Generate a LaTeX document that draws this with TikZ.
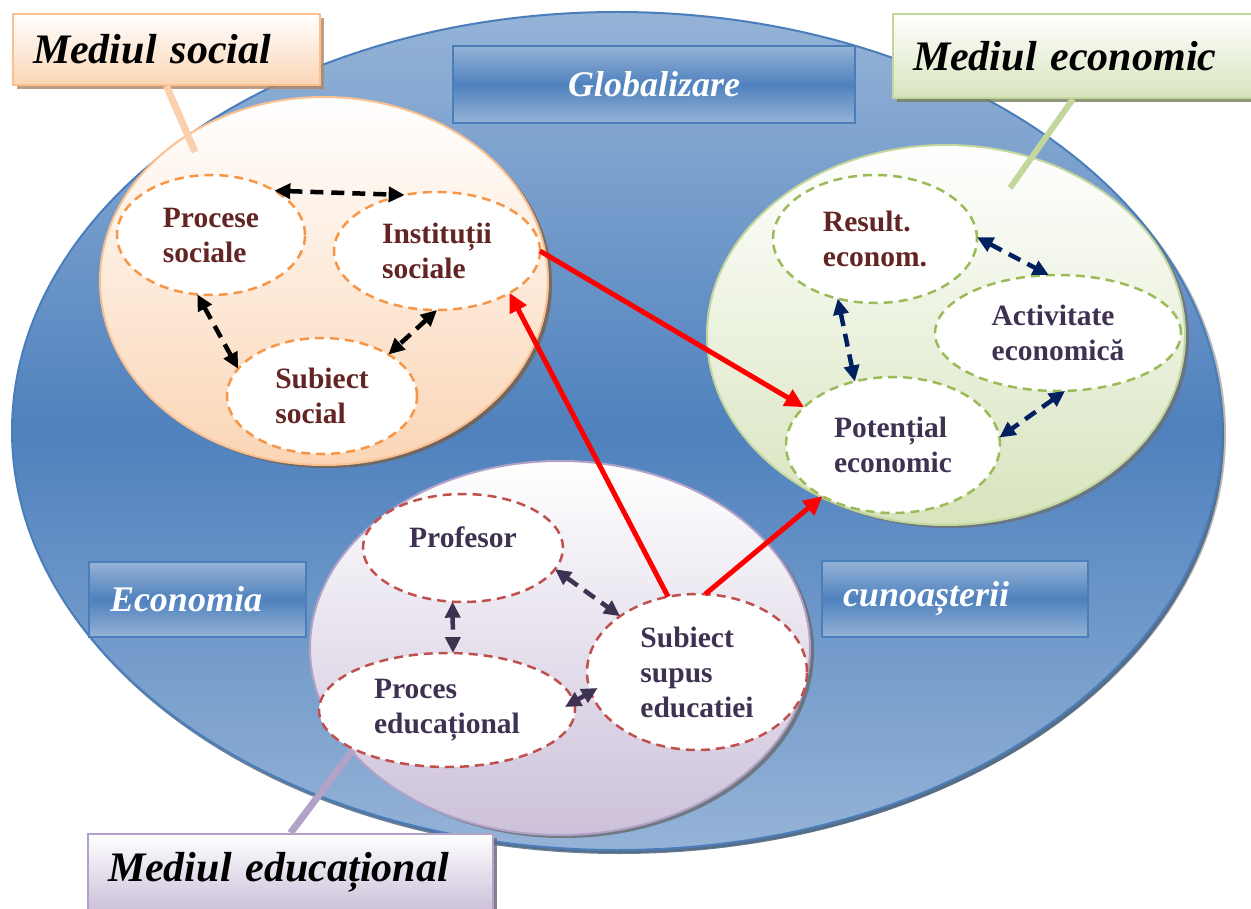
\documentclass[tikz,border=0pt]{standalone}
\usepackage{fontspec}
\setmainfont{Liberation Serif}
\usetikzlibrary{shapes.geometric,arrows.meta,shadows,calc}

\definecolor{blueLight}{HTML}{95B3D7}
\definecolor{blueDark}{HTML}{4F81BD}
\definecolor{blueEdge}{HTML}{4A7EBB}
\definecolor{peach}{HTML}{FBD5B5}
\definecolor{peachEdge}{HTML}{FAC090}
\definecolor{orangeDash}{HTML}{F79646}
\definecolor{greenFill}{HTML}{D7E4BD}
\definecolor{greenEdge}{HTML}{C3D69B}
\definecolor{greenDash}{HTML}{9BBB59}
\definecolor{lavFill}{HTML}{CCC1DA}
\definecolor{lavEdge}{HTML}{B3A2C7}
\definecolor{redDash}{HTML}{C0504D}
\definecolor{brownText}{HTML}{632523}
\definecolor{purpleText}{HTML}{3F3151}
\definecolor{navy}{HTML}{002060}
\definecolor{arrowRed}{HTML}{FF0000}

\tikzset{
  zone/.style={ellipse, inner sep=0pt, outer sep=0pt, line width=2pt,
    drop shadow={shadow xshift=4pt, shadow yshift=-3pt, fill=black!60, opacity=0.45}},
  cell/.style={ellipse, fill=white, line width=2.5pt, dash pattern=on 9pt off 6pt,
    inner sep=0pt, outer sep=0pt, align=left,
    font=\fontsize{29.5}{35}\selectfont\bfseries},
  bluebox/.style={rectangle, draw=blueEdge, line width=1.5pt,
    top color=blueLight, bottom color=blueLight, middle color=blueDark,
    text=white, inner ysep=0pt, inner xsep=21pt,
    font=\fontsize{36}{40}\selectfont\bfseries\itshape},
  tagbox/.style={rectangle, line width=2pt, inner ysep=0pt, inner xsep=20pt,
    align=left, font=\fontsize{42}{48}\selectfont\bfseries\itshape},
  pin/.style={line width=7pt},
  bigarrow/.style={draw=arrowRed, line width=5pt, -{Triangle[length=19pt,width=18pt]}},
  link/.style={line width=4.5pt, dash pattern=on 13pt off 8pt,
    {Triangle[length=16pt,width=15pt]}-{Triangle[length=16pt,width=15pt]}}
}

\begin{document}
\begin{tikzpicture}[x=1pt,y=-1pt]
\path[fill=white] (0,0) rectangle (1251,909);
\useasboundingbox (0,0) rectangle (1251,909);
\clip (0,0) rectangle (1251,909);

% outer field: the knowledge economy
\node[zone, minimum width=1210pt, minimum height=838pt, draw=blueEdge,
  top color=blueLight, bottom color=blueLight, middle color=blueDark,
  drop shadow={shadow xshift=2pt, shadow yshift=-4pt, fill=blueDark!60!black, opacity=0.7}]
  (field) at (617,431) {};

% headings on the field
\node[bluebox, minimum width=402pt, minimum height=77pt, text width=360pt, align=center]
  (glob) at (654,84.5) {Globalizare};
\node[bluebox, minimum width=217pt, minimum height=75pt, text width=175pt, align=left]
  (econ) at (197.5,599.5) {Economia};
\node[bluebox, minimum width=266pt, minimum height=76pt, text width=224pt, align=left]
  (know) at (955,599) {cunoașterii};

% the three environments
\node[zone, minimum width=448pt, minimum height=368pt, draw=peachEdge,
  top color=white, bottom color=peach,
  drop shadow={shadow xshift=4pt, shadow yshift=-3pt, fill=brown!70!black, opacity=0.5}]
  (social) at (324,281) {};
\node[zone, minimum width=478pt, minimum height=380pt, draw=greenEdge,
  top color=white, bottom color=greenFill,
  drop shadow={shadow xshift=4pt, shadow yshift=-3pt, fill=black!55, opacity=0.5}]
  (economic) at (946,335) {};
\node[zone, minimum width=500pt, minimum height=374pt, draw=lavEdge,
  top color=white, bottom color=lavFill,
  drop shadow={shadow xshift=4pt, shadow yshift=-3pt, fill=black!60, opacity=0.5}]
  (educ) at (560,648) {};

% callout pins
\coordinate (socpin) at (195,152);
\coordinate (ecopin) at (1010,188);
\coordinate (edupin) at (353,750);

% callout tags
\node[tagbox, minimum width=307pt, minimum height=71pt, text width=267pt,
  draw=peachEdge, top color=white, bottom color=peach,
  drop shadow={shadow xshift=4pt, shadow yshift=-4pt, fill=peachEdge!70!black, opacity=0.8}]
  (socbox) at (166.5,49.5) {Mediul social};
\node[tagbox, minimum width=360pt, minimum height=84pt, text width=320pt,
  draw=greenEdge, top color=white, bottom color=greenFill,
  drop shadow={shadow xshift=4pt, shadow yshift=-4pt, fill=greenEdge!60!black, opacity=0.8}]
  (ecobox) at (1073,56) {Mediul economic};
\node[tagbox, minimum width=405pt, minimum height=76pt, text width=365pt,
  draw=lavEdge, top color=white, bottom color=lavFill,
  drop shadow={shadow xshift=4pt, shadow yshift=-4pt, fill=lavEdge!60!black, opacity=0.8}]
  (edubox) at (290.5,872) {Mediul educațional};

\draw[pin, draw=peachEdge!75!white] (socbox.south) -- (socpin);
\draw[pin, line width=6pt, draw=greenEdge] (ecobox.south) -- (ecopin);
\draw[pin, draw=lavEdge] (edubox.north) -- (edupin);

% social cells
\node[cell, draw=orangeDash, text=brownText, minimum width=188pt, minimum height=120pt]
  (proc) at (211,235) {Procese\\sociale};
\node[cell, draw=orangeDash, text=brownText, minimum width=206pt, minimum height=118pt]
  (inst) at (437,251) {Instituții\\sociale};
\node[cell, draw=orangeDash, text=brownText, minimum width=190pt, minimum height=116pt]
  (subs) at (322,396) {Subiect\\social};

% economic cells
\node[cell, draw=greenDash, text=brownText, minimum width=204pt, minimum height=128pt]
  (res) at (875,239) {Result.\\econom.};
\node[cell, draw=greenDash, text=purpleText, minimum width=246pt, minimum height=116pt]
  (act) at (1058,333) {Activitate\\economică};
\node[cell, draw=greenDash, text=purpleText, minimum width=214pt, minimum height=136pt]
  (pot) at (893,445) {Potențial\\economic};

% educational cells
\node[cell, draw=redDash, minimum width=200pt, minimum height=108pt,
  label={[font=\fontsize{29.5}{35}\selectfont\bfseries, text=purpleText, yshift=11pt]center:Profesor}]
  (prof) at (463,548) {};
\node[cell, draw=redDash, text=purpleText, minimum width=256pt, minimum height=114pt]
  (proced) at (447,710) {Proces\\educațional};
\node[cell, draw=redDash, text=purpleText, minimum width=220pt, minimum height=156pt]
  (subed) at (697,672) {Subiect\\supus\\educatiei};

% links between environments
\draw[bigarrow] (inst.0) -- (pot.157);
\draw[bigarrow] (subed.111) -- (inst.330);
\draw[bigarrow] (subed.84) -- (pot.216);

% links inside the social environment
\draw[link, black] (proc.35) -- (inst.120);
\draw[link, black] (proc.257) -- (subs.162);
\draw[link, black] (inst.270) -- (subs.32);

% links inside the economic environment
\draw[link, navy] (res.1) -- (act.99.5);
\draw[link, navy] (res.238) -- (pot.121);
\draw[link, navy] (act.277) -- (pot.4);

% links inside the educational environment
\draw[link, purpleText] (prof.347) -- (subed.144.5);
\draw[link, purpleText] (prof.259.5) -- (proced.84);
\draw[link, purpleText] ($(proced.east)+(-10,-3)$) -- ($(subed.189)+(8,-1)$);
\end{tikzpicture}
\end{document}
